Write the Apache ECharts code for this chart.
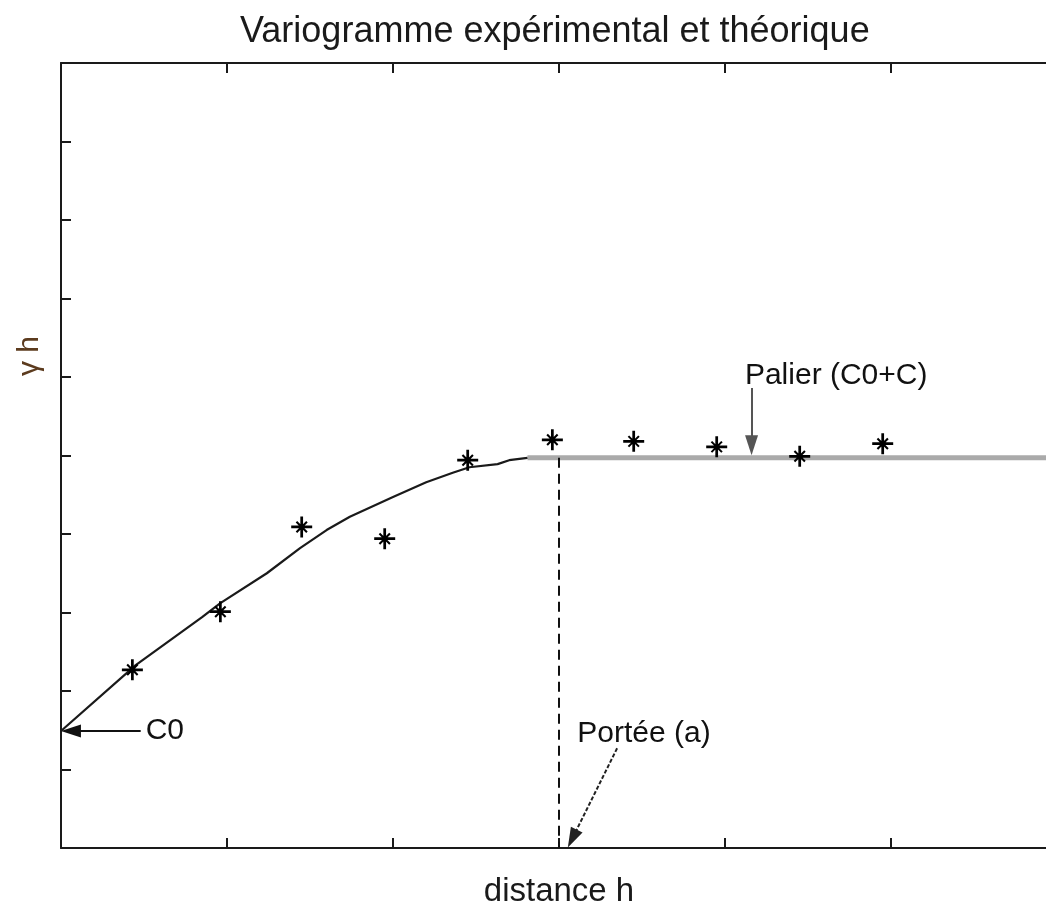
<!DOCTYPE html>
<html>
<head>
<meta charset="utf-8">
<script src="https://cdn.jsdelivr.net/npm/echarts@6/dist/echarts.min.js"></script>
<style>
html,body{margin:0;padding:0;background:#fff;}
#chart{width:1046px;height:909px;}
</style>
</head>
<body>
<div id="chart"></div>
<script>
// ---- data ----
const titleText = 'Variogramme expérimental et théorique';
const xName = 'distance h';
const yName = 'γ h';

// theoretical model (black part, rising)
const modelX = [0, 0.45, 0.85, 0.96, 1.24, 1.44, 1.60, 1.74, 2.00, 2.20, 2.36, 2.46, 2.63, 2.70, 2.81];
const modelY = [1.49, 2.33, 2.94, 3.12, 3.50, 3.82, 4.05, 4.22, 4.47, 4.66, 4.78, 4.85, 4.89, 4.94, 4.97];
// sill (grey flat part)
const sillX = [2.81, 6];
const sillY = [4.97, 4.97];
// experimental variogram points
const expX = [0.43, 0.96, 1.45, 1.95, 2.45, 2.96, 3.45, 3.95, 4.45, 4.95];
const expY = [2.27, 3.01, 4.09, 3.94, 4.94, 5.20, 5.18, 5.11, 4.99, 5.15];

const rangeA = 3.0;       // portée
const sillValue = 4.97;   // palier

const annTexts = ['C0', 'Portée (a)', 'Palier (C0+C)'];
const annX = [0.51, 3.11, 4.12];
const annY = [1.49, 1.46, 6.01];

// arrows: [fromX, fromY, toX, toY]
const arrowC0 = [0.48, 1.49, 0.06, 1.49];
const arrowRange = [3.35, 1.27, 3.08, 0.12];
const arrowSill = [4.16, 5.86, 4.16, 5.13];

const xMin = 0, xMax = 6, xInterval = 1;
const yMin = 0, yMax = 10, yInterval = 1;

const zip = (a, b) => a.map((v, i) => [v, b[i]]);

const starPath = 'path://M8.7 0 H11.3 V20 H8.7 Z M0 8.7 H20 V11.3 H0 Z M5.7 4.3 L15.7 14.3 L14.3 15.7 L4.3 5.7 Z M14.3 4.3 L15.7 5.7 L5.7 15.7 L4.3 14.3 Z';

const font = "'Liberation Sans', Arial, sans-serif";

const chart = echarts.init(document.getElementById('chart'), null, {renderer: 'canvas'});

const axisLine = {show: true, lineStyle: {color: '#1a1a1a', width: 2}};
const axisTick = {show: true, inside: true, length: 10, lineStyle: {color: '#1a1a1a', width: 2}};

function arrowLine(a, color, type) {
  return [{coord: [a[0], a[1]], symbol: 'none'}, {coord: [a[2], a[3]], symbol: 'triangle', itemStyle: {color: color}, lineStyle: {color: color, width: 2, type: type}}];
}

const option = {
  animation: false,
  backgroundColor: '#ffffff',
  title: {
    text: titleText,
    left: 240,
    top: 14,
    padding: 0,
    textStyle: {fontFamily: font, fontSize: 36, fontWeight: 'normal', color: '#1a1a1a'}
  },
  grid: {left: 61, top: 63, right: -11, bottom: 61, outerBoundsMode: 'none', containLabel: false},
  xAxis: [{
    type: 'value', min: xMin, max: xMax, interval: xInterval, position: 'bottom',
    axisLine: axisLine, axisTick: axisTick, axisLabel: {show: false}, splitLine: {show: false},
    name: xName, nameLocation: 'middle', nameGap: 27,
    nameTextStyle: {fontFamily: font, fontSize: 33, color: '#1a1a1a'}
  }, {
    type: 'value', min: xMin, max: xMax, interval: xInterval, position: 'top',
    axisLine: axisLine, axisTick: axisTick, axisLabel: {show: false}, splitLine: {show: false}
  }],
  yAxis: [{
    type: 'value', min: yMin, max: yMax, interval: yInterval, position: 'left',
    axisLine: axisLine, axisTick: axisTick, axisLabel: {show: false}, splitLine: {show: false}
  }],
  graphic: [{
    type: 'text',
    x: 30, y: 356,
    rotation: Math.PI / 2,
    style: {text: yName, font: "30px 'Liberation Sans', Arial, sans-serif", fill: '#5c3b1e', align: 'center', verticalAlign: 'middle'}
  }],
  series: [
    {
      type: 'line', name: 'sill', data: zip(sillX, sillY), symbol: 'none', z: 2,
      lineStyle: {color: '#aaaaaa', width: 5}
    },
    {
      type: 'line', name: 'model', data: zip(modelX, modelY), symbol: 'none', z: 3,
      lineStyle: {color: '#1a1a1a', width: 2.2}
    },
    {
      type: 'scatter', name: 'experimental', data: zip(expX, expY), z: 5,
      symbol: starPath, symbolSize: 21, symbolKeepAspect: true,
      itemStyle: {color: '#000000', opacity: 1}
    },
    {
      type: 'scatter', name: 'annotations', z: 6, symbolSize: 0,
      itemStyle: {opacity: 1, color: '#1a1a1a'},
      data: annTexts.map((t, i) => ({value: [annX[i], annY[i]], name: t})),
      label: {show: true, position: 'right', distance: 0, formatter: p => p.name,
        fontFamily: font, fontSize: 30, color: '#111111', opacity: 1},
      markLine: {
        silent: true, animation: false,
        symbolSize: [13, 20],
        label: {show: false},
        itemStyle: {color: '#1a1a1a', opacity: 1},
        lineStyle: {color: '#1a1a1a', width: 2, type: 'solid', opacity: 1},
        data: [
          [{coord: [rangeA, sillValue], symbol: 'none'}, {coord: [rangeA, yMin], symbol: 'none', lineStyle: {color: '#111111', width: 2, type: [10, 6]}}],
          arrowLine(arrowC0, '#111111', 'solid'),
          arrowLine(arrowRange, '#222222', [4, 2]),
          arrowLine(arrowSill, '#555555', 'solid')
        ]
      }
    }
  ]
};
chart.setOption(option);
</script>
</body>
</html>
